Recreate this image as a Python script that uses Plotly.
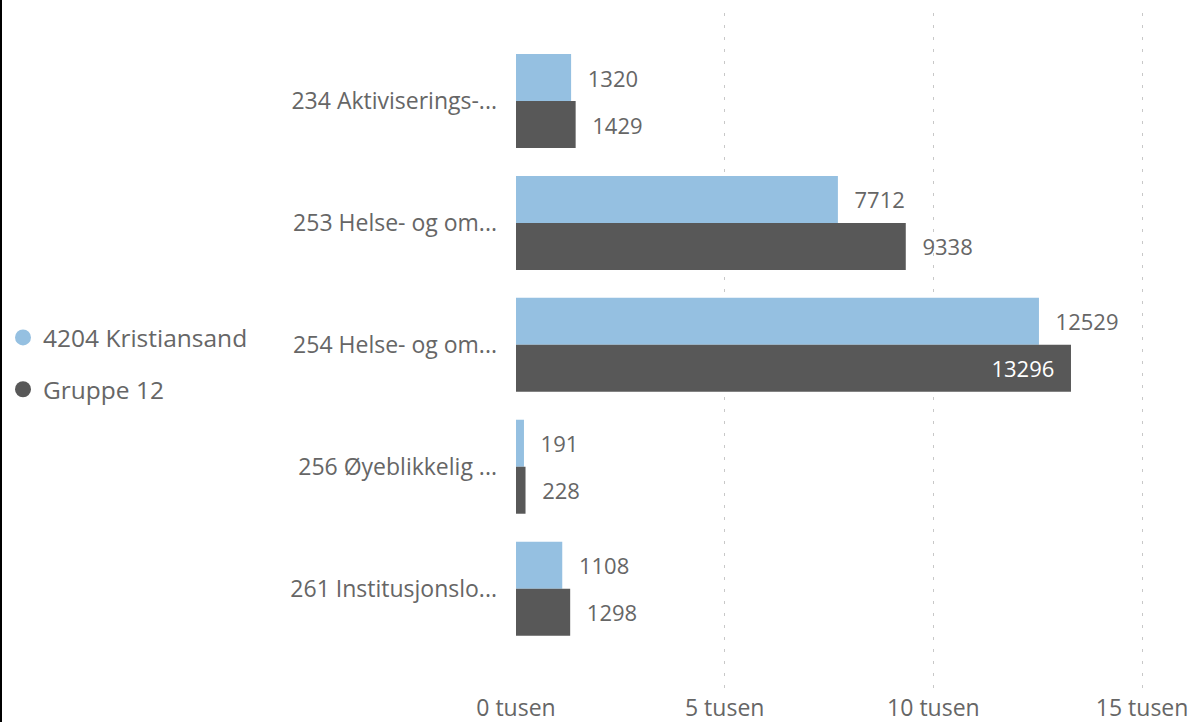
import plotly.graph_objects as go

categories = ["234 Aktiviserings-...", "253 Helse- og om...", "254 Helse- og om...",
              "256 Øyeblikkelig ...", "261 Institusjonslo..."]
series_names = ["4204 Kristiansand", "Gruppe 12"]
kristiansand = [1320, 7712, 12529, 191, 1108]
gruppe12 = [1429, 9338, 13296, 228, 1298]
tick_vals = [0, 5000, 10000, 15000]
tick_text = ["0 tusen", "5 tusen", "10 tusen", "15 tusen"]

colors = ["#95C0E1", "#585858"]
FONT = "Segoe UI, Open Sans, sans-serif"
TXT = "#666666"
NB = "\u00a0\u00a0\u200a"

W, H = 1194, 722
ML, MR, MT, MB = 516, 4, 13, 34

fig = go.Figure()
for name, vals, col in zip(series_names, [kristiansand, gruppe12], colors):
    pos = ["inside" if (name == "Gruppe 12" and v > 13000) else "outside" for v in vals]
    txt = [(f"{v}" + NB) if p == "inside" else (NB + f"{v}") for v, p in zip(vals, pos)]
    fig.add_trace(go.Bar(
        y=categories, x=vals, name=name, orientation="h",
        marker=dict(color=col, line=dict(width=0)),
        text=txt, textposition=pos, insidetextanchor="end",
        outsidetextfont=dict(color=TXT, size=22, family=FONT),
        insidetextfont=dict(color="white", size=22, family=FONT),
        constraintext="none", cliponaxis=False,
        showlegend=False, hoverinfo="skip",
    ))
    fig.add_trace(go.Scatter(
        x=[None], y=[None], mode="markers", name=name, legendgroup=name,
        marker=dict(color=col, size=18, symbol="circle"),
        showlegend=True,
    ))

plot_w = W - ML - MR
plot_h = H - MT - MB
fig.add_shape(type="line", xref="paper", yref="paper",
              x0=(1 - ML) / plot_w, x1=(1 - ML) / plot_w,
              y0=-MB / plot_h, y1=1 + MT / plot_h,
              line=dict(color="black", width=2))

fig.update_layout(
    width=W, height=H,
    margin=dict(l=ML, r=MR, t=MT, b=MB, pad=0, autoexpand=False),
    paper_bgcolor="white", plot_bgcolor="white",
    barmode="group", bargap=0.229, bargroupgap=0,
    font=dict(family=FONT, color=TXT),
    legend=dict(xref="container", yref="container", x=3 / W, y=(H - 315) / H,
                xanchor="left", yanchor="top",
                font=dict(size=24.5, color=TXT, family=FONT),
                traceorder="grouped", tracegroupgap=17,
                itemwidth=30, bgcolor="rgba(0,0,0,0)"),
    xaxis=dict(range=[0, (W - ML - MR) / 208.7 * 5000], automargin=False,
               tickvals=tick_vals, ticktext=tick_text,
               tickfont=dict(size=23, color=TXT, family=FONT),
               showgrid=True, gridcolor="#C8C8C8", gridwidth=1, griddash="3px,9px",
               zeroline=False, showline=False, ticks="", ticklabelstandoff=4),
    yaxis=dict(categoryorder="array", categoryarray=categories,
               range=[4.815, -0.722], automargin=False,
               tickfont=dict(size=23, color=TXT, family=FONT),
               showgrid=False, zeroline=False, showline=False, ticks="",
               ticklabelstandoff=18),
)

fig.write_html("out.html", config={"displayModeBar": False},
               post_script="document.body.style.margin='0';document.body.style.padding='0';")
